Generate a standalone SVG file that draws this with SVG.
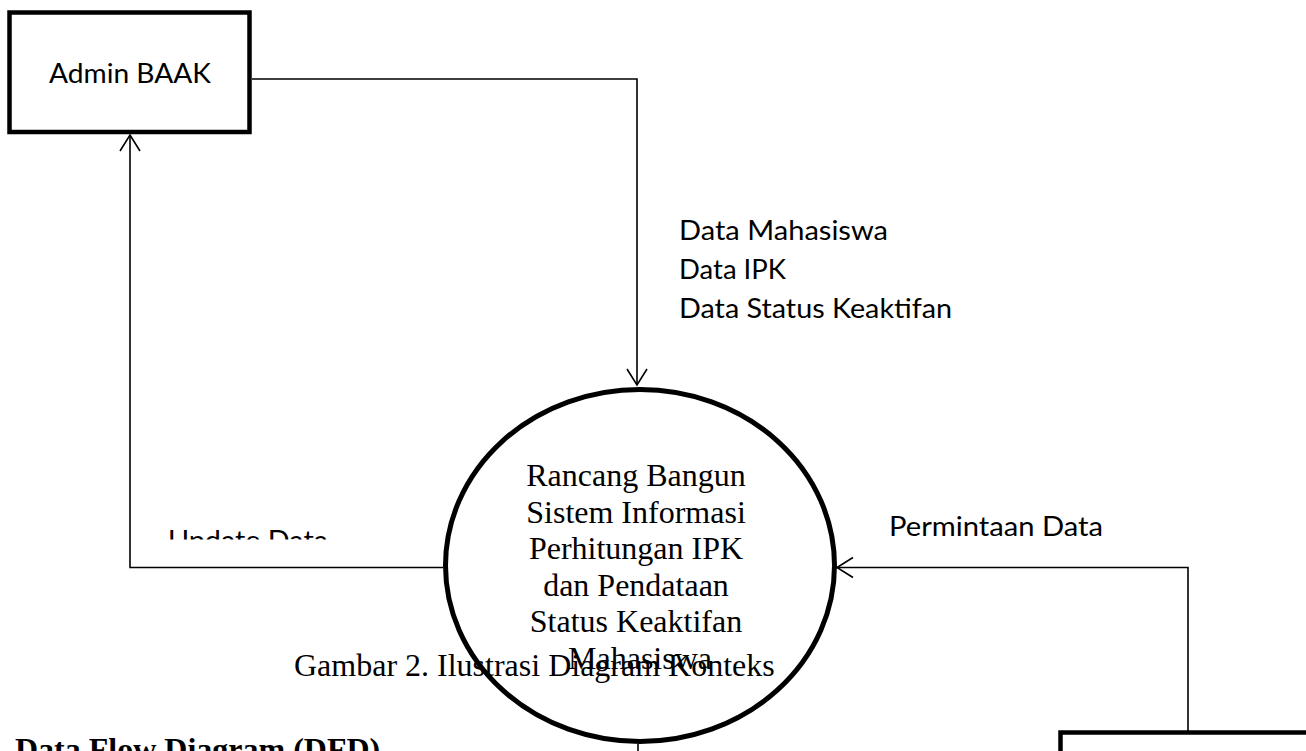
<svg xmlns="http://www.w3.org/2000/svg" width="1306" height="751" viewBox="0 0 1306 751">
<style>
.conn{fill:none;stroke:#000;stroke-width:1.6}
.lbl{font-family:Lato,"Liberation Sans",sans-serif;font-size:27px;fill:#000}
.serif{font-family:"Liberation Serif","Times New Roman",serif;font-size:32px;fill:#000}
.ent{fill:#fff;stroke:#000;stroke-width:4.5}
</style>
<defs>
<marker id="arr" markerUnits="userSpaceOnUse" markerWidth="20" markerHeight="24" viewBox="-18 -12 20 24" refX="0" refY="0" orient="auto">
<path d="M-16,-10 L0,0 L-16,10" fill="none" stroke="#000" stroke-width="1.6"/>
</marker>
<clipPath id="clipUpd"><rect x="150" y="500" width="200" height="39.5"/></clipPath>
</defs>
<rect width="1306" height="751" fill="#fff"/>
<g id="connectors">
<path class="conn" d="M252,79 H637 V385" marker-end="url(#arr)"/>
<path class="conn" d="M443,567.5 H130 V135" marker-end="url(#arr)"/>
<path class="conn" d="M1188,731 V567.5 H837" marker-end="url(#arr)"/>
<path class="conn" d="M638,744 V751"/>
<text class="lbl" x="679" y="240" textLength="209" lengthAdjust="spacingAndGlyphs">Data Mahasiswa</text>
<text class="lbl" x="679" y="279" textLength="107" lengthAdjust="spacingAndGlyphs">Data IPK</text>
<text class="lbl" x="679" y="318" textLength="273" lengthAdjust="spacingAndGlyphs">Data Status Keaktifan</text>
<text class="lbl" x="889" y="536" textLength="214" lengthAdjust="spacingAndGlyphs">Permintaan Data</text>
<text class="lbl" x="168" y="550" textLength="160" lengthAdjust="spacingAndGlyphs" clip-path="url(#clipUpd)">Update Data</text>
</g>
<g id="admin-baak">
<rect class="ent" x="9.5" y="12.5" width="240" height="119.5"/>
<text class="lbl" x="49" y="83" textLength="162" lengthAdjust="spacingAndGlyphs">Admin BAAK</text>
</g>
<g id="process">
<ellipse cx="640" cy="565.5" rx="194.5" ry="176" fill="none" stroke="#000" stroke-width="5"/>
<text class="serif" text-anchor="middle">
<tspan x="640" y="486">Rancang Bangun</tspan>
<tspan x="640" y="522.5">Sistem Informasi</tspan>
<tspan x="640" y="559">Perhitungan IPK</tspan>
<tspan x="640" y="595.5">dan Pendataan</tspan>
<tspan x="640" y="632">Status Keaktifan</tspan>
<tspan x="640" y="668.5">Mahasiswa</tspan>
</text>
</g>
<g id="mahasiswa-entity">
<rect class="ent" x="1060.5" y="732.5" width="300" height="100" stroke-width="5"/>
</g>
<text class="serif" x="294" y="676">Gambar 2. Ilustrasi Diagram Konteks</text>
<text class="serif" x="15" y="760" font-weight="bold">Data Flow Diagram (DFD)</text>
</svg>
